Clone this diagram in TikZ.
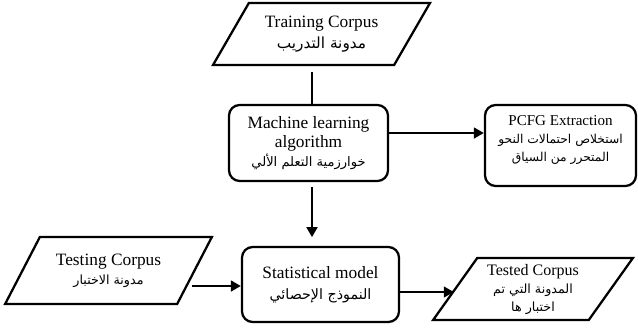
\documentclass[tikz,border=0pt]{standalone}
\usepackage{fontspec}
\setmainfont{Liberation Serif}
\newfontfamily\arabicfont[Script=Arabic]{DejaVu Sans}
\TeXXeTstate=1
\usetikzlibrary{shapes.geometric,arrows.meta,calc}
\newcommand{\artext}[2][9.5]{{\arabicfont\fontsize{#1}{12}\selectfont\beginR #2\endR}}
\tikzset{
  box/.style={draw, line width=1.7pt, rounded corners=8pt, align=center,
    font=\fontsize{13}{14.5}\selectfont},
  corpus/.style={draw, line width=1.7pt, trapezium, trapezium stretches=true,
    trapezium left angle=56, trapezium right angle=124, align=center,
    font=\fontsize{13}{14.5}\selectfont},
  link/.style={line width=2.2pt},
  arrow/.style={line width=2.2pt, -{Triangle[length=7.5pt,width=8pt]}},
}
\begin{document}
\begin{tikzpicture}[x=0.75pt,y=-0.75pt]
\useasboundingbox (0,0) rectangle (638,329);

% input and output corpora
\node[corpus, minimum width=162.75pt, minimum height=46.5pt] (train) at (321.5,34)
  {Training Corpus\\[1pt]\artext[11.5]{مدونة التدريب}};
\node[corpus, minimum width=155.25pt, minimum height=50.25pt] (testing) at (108.5,270.5)
  {Testing Corpus\\\artext{مدونة الاختبار}};
\node[corpus, minimum width=150pt, minimum height=46.5pt,
  font=\fontsize{12}{13.5}\selectfont] (tested) at (533,289)
  {Tested Corpus\\\artext{المدونة التي تم}\\\artext{اختبار ها}};

% processing steps
\node[box, minimum width=119.25pt, minimum height=57pt] (ml) at (308.5,143)
  {Machine learning\\algorithm\\\artext[9.8]{خوارزمية التعلم الألي}};
\node[box, minimum width=113.25pt, minimum height=60.75pt] (pcfg) at (560.5,145.5) {};
\node[align=center, font=\fontsize{11.3}{13.5}\selectfont] (pcfgtext) at (560.5,140)
  {PCFG Extraction\\\artext[9.2]{استخلاص احتمالات النحو}\\\artext[9.2]{المتحرر من السياق}};
\node[box, minimum width=117.75pt, minimum height=56.25pt] (stat) at (320.5,284.5)
  {Statistical model\\[1pt]\artext[10.7]{النموذج الإحصائي}};

% connector rows and columns
\coordinate (c1) at (312,72);
\coordinate (c2) at (400,133);
\coordinate (c4) at (220,286);
\coordinate (c5) at (420,292);

\draw[link] (c1) -- (c1 |- ml.north);
\draw[arrow] (ml.east |- c2) -- (pcfg.west |- c2);
\draw[arrow, shorten <=3.5pt, shorten >=6.5pt] (c1 |- ml.south) -- (c1 |- stat.north);
\draw[arrow, shorten <=-3pt] (testing.east |- c4) -- (stat.west |- c4);
\draw[arrow] (stat.east |- c5) -- (tested.west |- c5);
\end{tikzpicture}
\end{document}
